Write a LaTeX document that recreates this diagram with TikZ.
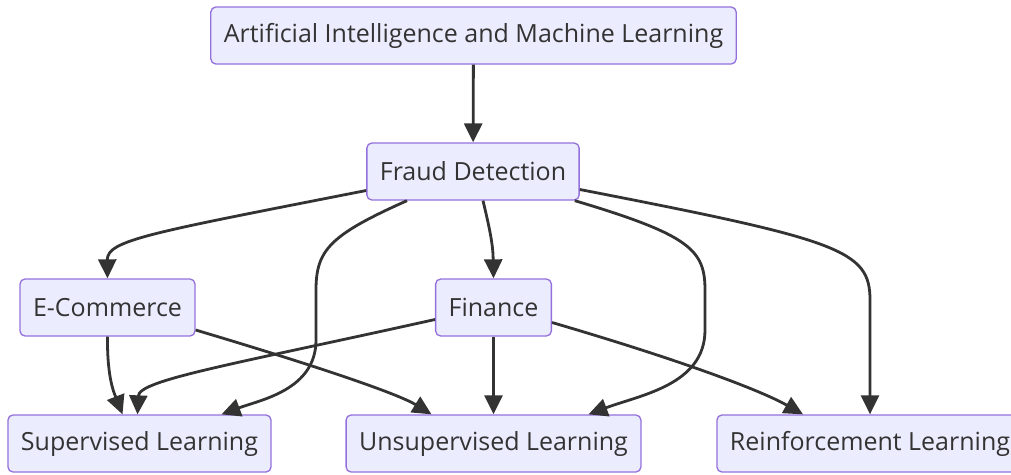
\documentclass[tikz,border=0pt]{standalone}
\usepackage{fontspec}
\setmainfont{Open Sans}
\usetikzlibrary{arrows.meta, positioning}
\definecolor{boxfill}{HTML}{ECECFF}
\definecolor{boxline}{HTML}{9370DB}
\definecolor{linkgray}{HTML}{333333}

\tikzset{
  box/.style={draw=boxline, fill=boxfill, line width=1.3pt, rounded corners=5pt,
    minimum height=57pt, inner xsep=13pt, text=linkgray,
    font=\fontsize{25}{30}\selectfont},
  link/.style={draw=linkgray, line width=2.8pt,
    -{Triangle[length=19pt,width=18pt]}},
}

\begin{document}
\begin{tikzpicture}[x=1pt, y=-1pt]
		\useasboundingbox (0,0) rectangle (1011,474);
		% boxes
		\node[box] (ai) at (473.5,35.5) {Artificial Intelligence and Machine Learning};
		\node[box] (fraud) at (473,171.5) {Fraud Detection};
		\node[box] (ecom) at (107.5,307.5) {E-Commerce};
		\node[box] (fin) at (493.5,307.5) {Finance};
		\node[box] (sup) at (139.5,443.5) {Supervised Learning};
		\node[box] (unsup) at (493.5,443.5) {Unsupervised Learning};
		\node[box] (rein) at (870,443.5) {Reinforcement Learning};
		% links
		\draw[link] (ai) -- (fraud);
		\draw[link] ([yshift=-19pt]fraud.west) .. controls (150,233) and (107,240) .. (ecom.north);
		\draw[link] ([xshift=-66pt]fraud.south) .. controls (330,235) and (316,250) .. (316,290) -- (316,340) .. controls (316,390) and (260,400) .. ([xshift=82pt]sup.north);
		\draw[link] ([xshift=10pt]fraud.south) .. controls (490,230) and (493,245) .. (fin.north);
		\draw[link] ([xshift=-5pt]fraud.south east) .. controls (690,235) and (705,250) .. (705,290) -- (705,330) .. controls (705,385) and (640,395) .. ([xshift=95pt]unsup.north);
		\draw[link] ([yshift=-18pt]fraud.east) .. controls (840,240) and (870,250) .. (870,300) -- (rein.north);
		\draw[link] (ecom.south) .. controls (107,380) and (115,395) .. ([xshift=-17pt]sup.north);
		\draw[link] ([yshift=-22.5pt]ecom.east) .. controls (330,370) and (400,395) .. ([xshift=-62pt]unsup.north);
		\draw[link] ([yshift=-12pt]fin.west) .. controls (230,365) and (139,380) .. ([xshift=-2pt]sup.north);
		\draw[link] (fin) -- (unsup);
		\draw[link] ([yshift=-15pt]fin.east) .. controls (680,360) and (760,390) .. ([xshift=-67pt]rein.north);
\end{tikzpicture}
\end{document}
